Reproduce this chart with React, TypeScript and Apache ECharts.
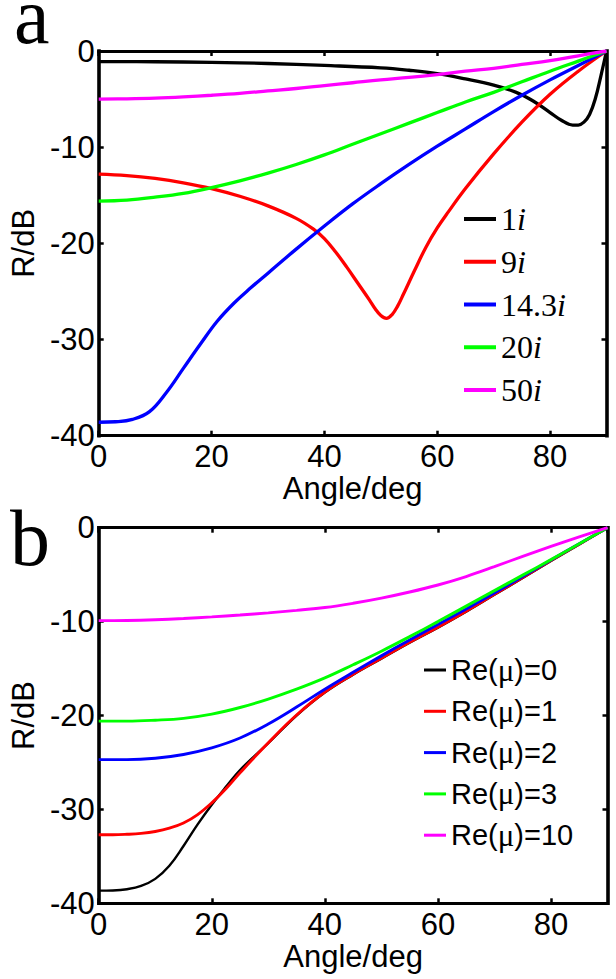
import React, { useEffect, useRef } from "react";
import * as echarts from "echarts";

// ---------- Panel a: R/dB vs angle for imaginary permittivity values ----------
const NAMES_A = ["1i", "9i", "14.3i", "20i", "50i"];
const COLORS = ["#000000", "#ff0000", "#0000ff", "#00ff00", "#ff00ff"];

const ANGLES_COMMON = [0, 5, 10, 15, 20, 25, 30, 35, 40, 45, 50, 55, 60, 65, 70, 75, 80, 85, 90];

const ANGLES_1I = [0, 10, 20, 30, 40, 50, 55, 60, 65, 70, 74, 77, 80, 82, 84, 85, 86, 87, 88, 89, 90];
const R_1I = [-1.1, -1.12, -1.18, -1.3, -1.5, -1.75, -2.0, -2.35, -2.9, -3.55, -4.3, -5.2, -6.4, -7.2, -7.7, -7.7, -7.4, -6.6, -5.0, -2.6, 0];

const ANGLES_9I = [0, 5, 10, 15, 20, 25, 30, 35, 38, 40, 42, 44, 46, 48, 49, 50, 51, 52, 53, 54, 56, 58, 60, 62, 65, 70, 75, 80, 85, 90];
const R_9I = [-12.8, -12.95, -13.25, -13.7, -14.3, -15.1, -16.1, -17.4, -18.5, -19.5, -20.9, -22.5, -24.2, -25.9, -26.8, -27.5, -27.8, -27.4, -26.5, -25.3, -22.8, -20.4, -18.4, -16.7, -14.3, -10.7, -7.4, -4.5, -2.1, 0];

const ANGLES_143I = [0, 3, 6, 9, 12, 15, 18, 21, 24, 27, 30, 35, 40, 45, 50, 55, 60, 65, 70, 75, 80, 85, 90];
const R_143I = [-38.6, -38.55, -38.3, -37.5, -35.5, -33.0, -30.5, -28.1, -26.2, -24.6, -23.1, -20.6, -18.2, -15.9, -13.8, -11.8, -9.9, -8.1, -6.3, -4.6, -3.0, -1.5, 0];

const R_20I = [-15.6, -15.5, -15.2, -14.8, -14.2, -13.5, -12.7, -11.8, -10.8, -9.7, -8.6, -7.5, -6.4, -5.3, -4.3, -3.2, -2.1, -1.05, 0];
const R_50I = [-5.0, -4.97, -4.9, -4.77, -4.6, -4.4, -4.15, -3.9, -3.6, -3.3, -3.0, -2.75, -2.45, -2.1, -1.8, -1.4, -1.0, -0.5, 0];

// ---------- Panel b: R/dB vs angle for Re(mu) ----------
const NAMES_B = ["Re(μ)=0", "Re(μ)=1", "Re(μ)=2", "Re(μ)=3", "Re(μ)=10"];

const ANGLES_FINE = [0, 2.5, 5, 7.5, 10, 12.5, 15, 17.5, 20, 22.5, 25, 30, 35, 40, 45, 50, 55, 60, 65, 70, 75, 80, 85, 90];
const R_RE0 = [-38.65, -38.63, -38.5, -38.15, -37.4, -36.0, -33.9, -31.6, -29.5, -27.6, -25.8, -22.95, -20.0, -17.55, -15.65, -13.95, -12.25, -10.65, -8.95, -7.15, -5.35, -3.55, -1.78, 0];
const R_RE1 = [-32.7, -32.7, -32.65, -32.55, -32.35, -32.0, -31.45, -30.55, -29.3, -27.8, -26.1, -22.9, -19.95, -17.5, -15.6, -13.9, -12.2, -10.6, -8.9, -7.1, -5.3, -3.5, -1.75, 0];

const R_RE2 = [-24.7, -24.7, -24.55, -24.15, -23.45, -22.4, -20.9, -19.1, -17.2, -15.4, -13.65, -11.95, -10.3, -8.65, -6.95, -5.2, -3.45, -1.7, 0];
const R_RE3 = [-20.6, -20.6, -20.5, -20.3, -19.85, -19.15, -18.25, -17.2, -16.0, -14.6, -13.15, -11.6, -10.0, -8.35, -6.7, -5.05, -3.4, -1.7, 0];
const R_RE10 = [-9.9, -9.88, -9.8, -9.67, -9.5, -9.3, -9.07, -8.8, -8.5, -8.05, -7.5, -6.85, -6.1, -5.2, -4.15, -3.05, -2.0, -0.98, 0];

const X_MIN = 0;
const X_MAX = 90;
const X_INTERVAL = 20;
const Y_MIN = -40;
const Y_MAX = 0;
const Y_INTERVAL = 10;

const SANS = '"Liberation Sans", Arial, Helvetica, sans-serif';
const SERIF = '"Liberation Serif", "Times New Roman", serif';

const zip = (xs: number[], ys: number[]) => xs.map((x, i) => [x, ys[i]]);

const SERIES_A = [
  zip(ANGLES_1I, R_1I),
  zip(ANGLES_9I, R_9I),
  zip(ANGLES_143I, R_143I),
  zip(ANGLES_COMMON, R_20I),
  zip(ANGLES_COMMON, R_50I),
];
const SERIES_B = [
  zip(ANGLES_FINE, R_RE0),
  zip(ANGLES_FINE, R_RE1),
  zip(ANGLES_COMMON, R_RE2),
  zip(ANGLES_COMMON, R_RE3),
  zip(ANGLES_COMMON, R_RE10),
];

function xAxisDef(gridIndex: number, position: "top" | "bottom", withLabels: boolean, margin: number, nameGap: number) {
  return {
    type: "value",
    gridIndex,
    position,
    min: X_MIN,
    max: X_MAX,
    interval: X_INTERVAL,
    name: withLabels ? "Angle/deg" : "",
    nameLocation: "middle",
    nameGap,
    nameTextStyle: { fontFamily: SANS, fontSize: 31, color: "#000" },
    axisLine: { show: true, onZero: false, lineStyle: { color: "#000", width: 3, cap: "square" } },
    axisTick: { show: true, inside: true, length: 5, lineStyle: { color: "#000", width: 2.5 } },
    axisLabel: {
      show: withLabels,
      showMaxLabel: false,
      margin,
      fontFamily: SANS,
      fontSize: 31,
      color: "#000",
    },
    splitLine: { show: false },
  };
}

function yAxisDef(gridIndex: number, position: "left" | "right", withLabels: boolean) {
  return {
    type: "value",
    gridIndex,
    position,
    min: Y_MIN,
    max: Y_MAX,
    interval: Y_INTERVAL,
    name: withLabels ? "R/dB" : "",
    nameLocation: "middle",
    nameRotate: 90,
    nameGap: 58,
    nameTextStyle: { fontFamily: SANS, fontSize: 31, color: "#000" },
    axisLine: { show: true, onZero: false, lineStyle: { color: "#000", width: 3.6, cap: "square" } },
    axisTick: { show: true, inside: true, length: 5, lineStyle: { color: "#000", width: 2.5 } },
    axisLabel: {
      show: withLabels,
      margin: 4,
      fontFamily: SANS,
      fontSize: 31,
      color: "#000",
    },
    splitLine: { show: false },
  };
}

export default function App() {
  const ref = useRef<HTMLDivElement>(null);

  useEffect(() => {
    if (!ref.current) return;
    const chart = echarts.init(ref.current, undefined, { renderer: "svg" });

    const seriesA = NAMES_A.map((name, i) => ({
      name,
      type: "line",
      xAxisIndex: 0,
      yAxisIndex: 0,
      data: SERIES_A[i],
      symbol: "none",
      showSymbol: false,
      smooth: 0.4,
      itemStyle: { color: COLORS[i] },
      lineStyle: { color: COLORS[i], width: 3.3 },
    }));
    const seriesB = NAMES_B.map((name, i) => ({
      name,
      type: "line",
      xAxisIndex: 2,
      yAxisIndex: 2,
      data: SERIES_B[i],
      symbol: "none",
      showSymbol: false,
      smooth: 0.4,
      itemStyle: { color: COLORS[i] },
      lineStyle: { color: COLORS[i], width: i === 0 ? 2.4 : 2.9 },
    }));

    chart.setOption({
      animation: false,
      backgroundColor: "#ffffff",
      grid: [
        { left: 95, top: 51, right: 9.5, bottom: 543.3 },
        { left: 96, top: 527.7, right: 8.5, bottom: 75.7 },
      ],
      xAxis: [
        xAxisDef(0, "bottom", true, 5, 32.5),
        xAxisDef(0, "top", false, 5, 0),
        xAxisDef(1, "bottom", true, 6, 36.5),
        xAxisDef(1, "top", false, 6, 0),
      ],
      yAxis: [
        yAxisDef(0, "left", true),
        yAxisDef(0, "right", false),
        yAxisDef(1, "left", true),
        yAxisDef(1, "right", false),
      ],
      legend: [
        {
          orient: "vertical",
          left: 464,
          top: 201,
          padding: 0,
          itemGap: 6.75,
          itemWidth: 32,
          itemHeight: 4,
          icon: "rect",
          selectedMode: false,
          data: NAMES_A,
          formatter: (n: string) => n.replace(/i$/, "") + "{it|i}",
          textStyle: {
            fontFamily: SERIF,
            fontSize: 32,
            lineHeight: 36,
            color: "#000",
            rich: {
              it: { fontFamily: SERIF, fontStyle: "italic", fontSize: 32, lineHeight: 36, color: "#000" },
            },
          },
        },
        {
          orient: "vertical",
          left: 424,
          top: 653.5,
          padding: 0,
          itemGap: 8.3,
          itemWidth: 22,
          itemHeight: 3,
          icon: "rect",
          selectedMode: false,
          data: NAMES_B,
          formatter: (n: string) => n.replace("μ", "{mu|μ}"),
          textStyle: {
            fontFamily: SANS,
            fontSize: 29,
            lineHeight: 33,
            color: "#000",
            rich: {
              mu: { fontFamily: SERIF, fontSize: 31, lineHeight: 33, color: "#000" },
            },
          },
        },
      ],
      graphic: [
        {
          type: "text",
          x: 14,
          y: 16,
          style: { text: "a", fontFamily: SERIF, fontSize: 80, verticalAlign: "middle", align: "left", fill: "#000" },
        },
        {
          type: "text",
          x: 10,
          y: 538,
          style: { text: "b", fontFamily: SERIF, fontSize: 80, verticalAlign: "middle", align: "left", fill: "#000" },
        },
      ],
      series: [...seriesA, ...seriesB],
    });

    return () => {
      chart.dispose();
    };
  }, []);

  return (
    <div
      ref={ref}
      style={{ position: "fixed", left: 0, top: 0, width: 616, height: 979, background: "#fff" }}
    />
  );
}
